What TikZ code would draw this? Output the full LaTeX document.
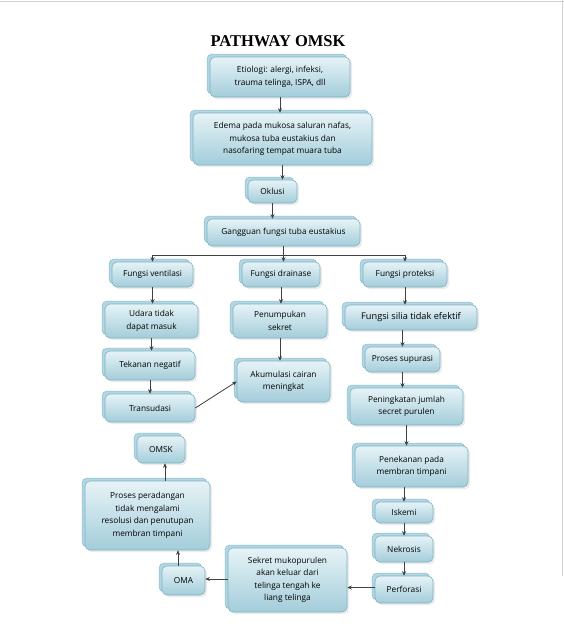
\documentclass[tikz,border=0pt]{standalone}
\usepackage{fontspec}
\setmainfont{Open Sans}
\newfontfamily\titlefont{Liberation Serif}
\usetikzlibrary{arrows.meta,calc}
\definecolor{boxtop}{HTML}{E6F3F7}
\definecolor{boxbot}{HTML}{A3CDDA}
\definecolor{boxline}{HTML}{7FB2C4}
\definecolor{backc}{HTML}{B2D6E2}
\definecolor{backline}{HTML}{8DBDCD}
\definecolor{arrc}{HTML}{404040}
\tikzset{
  bx/.style={rounded corners=5pt, draw=boxline, line width=0.6pt,
    top color=boxtop, bottom color=boxbot, align=center,
    font=\fontsize{8.3}{12.5}\selectfont, inner sep=1pt},
  backbox/.style={rounded corners=5pt, fill=backc, draw=backline, line width=0.5pt},
  shadowbox/.style={rounded corners=5pt, fill=black!8},
  arr/.style={draw=arrc, line width=0.8pt, -{Stealth[length=4.5pt,width=4pt]}},
  ln/.style={draw=arrc, line width=0.8pt},
}
\newcommand\pbox[6]{%
  \fill[shadowbox] (#2+2,#3+2) rectangle (#4+2,#5+2);
  \filldraw[backbox] (#2-3,#3-3) rectangle (#4-3,#5-3);
  \node[bx, minimum width={(#4-#2)*1pt}, minimum height={(#5-#3)*1pt}] (#1) at ({(#2+#4)/2},{(#3+#5)/2}) {#6};
}
\begin{document}
\begin{tikzpicture}[x=1pt,y=-1pt]
\useasboundingbox (0,0) rectangle (564,640);
\fill[white] (0,0) rectangle (564,640);
\draw[gray!35, line width=1.5pt] (0,1.5) -- (564,1.5);
\draw[gray!35, line width=1.5pt] (562.5,0) -- (562.5,576);
\node[font=\titlefont\bfseries\fontsize{16.5}{18}\selectfont] (title) at (278,41) {PATHWAY OMSK};

\pbox{etio}{210}{57}{350}{97}{Etiologi: alergi, infeksi,\\trauma telinga, ISPA, dll}
\pbox{edema}{193}{113}{372}{165}{Edema pada mukosa saluran nafas,\\mukosa tuba eustakius dan\\nasofaring tempat muara tuba}
\pbox{okl}{248}{180}{297}{203}{Oklusi}
\pbox{gang}{207}{219}{360}{246}{Gangguan fungsi tuba eustakius}
\pbox{fv}{112}{262}{193}{287}{Fungsi ventilasi}
\pbox{fd}{242}{262}{320}{287}{Fungsi drainase}
\pbox{fp}{363}{262}{447}{287}{Fungsi proteksi}
\pbox{udara}{105}{304}{198}{338}{Udara tidak\\dapat masuk}
\pbox{penum}{233}{304}{327}{338}{Penumpukan\\sekret}
\pbox{silia}{345}{305}{477}{330}{\fontsize{9.2}{12}\selectfont Fungsi silia tidak efektif}
\pbox{tek}{105}{351}{195}{380}{Tekanan negatif}
\pbox{akum}{237}{361}{330}{402}{Akumulasi cairan\\meningkat}
\pbox{trans}{105}{394}{195}{422}{Transudasi}
\pbox{sup}{365}{347}{440}{372}{Proses supurasi}
\pbox{pen}{350}{388}{463}{425}{Peningkatan jumlah\\secret purulen}
\pbox{pnk}{355}{446}{468}{487}{Penekanan pada\\membran timpani}
\pbox{isk}{375}{502}{433}{523}{Iskemi}
\pbox{nek}{375}{536}{433}{562}{Nekrosis}
\pbox{perf}{375}{576}{433}{603}{Perforasi}
\pbox{sek}{228}{548}{347}{612}{Sekret mukopurulen\\akan keluar dari\\telinga tengah ke\\liang telinga}
\pbox{oma}{162}{566}{205}{595}{OMA}
\pbox{pros}{85}{481}{210}{550}{Proses peradangan\\tidak mengalami\\resolusi dan penutupan\\membran timpani}
\pbox{omsk}{137}{436}{185}{463}{OMSK}

\draw[arr] (etio.south) -- (etio.south |- edema.north);
\draw[arr] (edema.south) -- (edema.south |- okl.north);
\draw[arr] (okl.south) -- (okl.south |- gang.north);
\coordinate (bl) at (152.5,255);
\coordinate (br) at (405,255);
\draw[ln] (gang.south) -- (gang.south |- bl);
\draw[ln] (bl) -- (br);
\draw[arr] (bl) -- (bl |- fv.north);
\draw[arr] (gang.south |- bl) -- (gang.south |- fd.north);
\draw[arr] (br) -- (br |- fp.north);
\draw[arr] (fv.south) -- (fv.south |- udara.north);
\draw[arr] (fd.south) -- (fd.south |- penum.north);
\draw[arr] (fp.south) -- (fp.south |- silia.north);
\draw[arr] (udara.south) -- (udara.south |- tek.north);
\draw[arr] (tek.south) -- (tek.south |- trans.north);
\draw[arr] (penum.south) -- (penum.south |- akum.north);
\draw[arr] (trans.east) -- (akum.west);
\draw[arr] (silia.south -| sup.north) -- (sup.north);
\draw[arr] (sup.south) -- (sup.south |- pen.north);
\draw[arr] (pen.south) -- (pen.south |- pnk.north);
\draw[arr] (pnk.south -| isk.north) -- (isk.north);
\draw[arr] (isk.south) -- (isk.south |- nek.north);
\draw[arr] (nek.south) -- (nek.south |- perf.north);
\draw[arr] ([yshift=2]perf.west) -- ([yshift=2]perf.west -| sek.east);
\draw[arr] ([yshift=1]sek.west) -- ([yshift=1]sek.west -| oma.east);
\draw[arr] ([xshift=-5.5]oma.north) -- ([xshift=-5.5]oma.north |- pros.south);
\draw[arr] ([xshift=4]omsk.south |- pros.north) -- ([xshift=4]omsk.south);
\end{tikzpicture}
\end{document}
